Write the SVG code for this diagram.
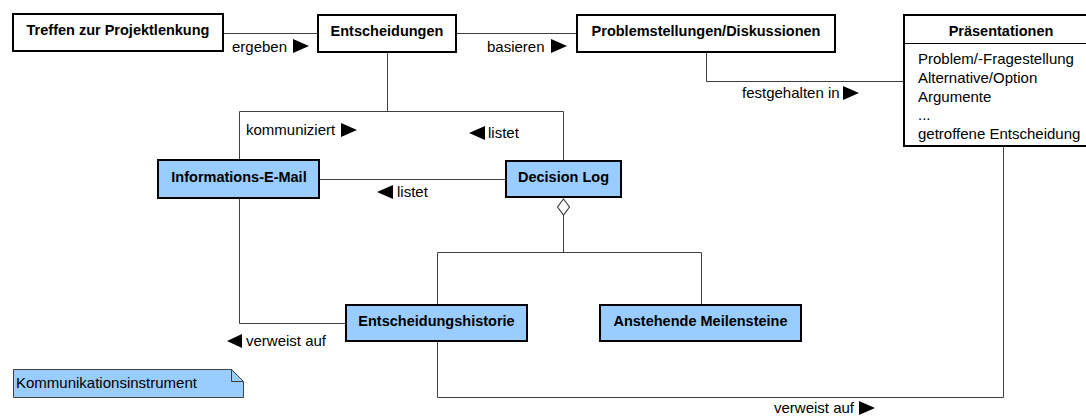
<svg xmlns="http://www.w3.org/2000/svg" width="1086" height="417" viewBox="0 0 1086 417">
<style>
.box{fill:#ffffff;stroke:#000;stroke-width:2}
.blue{fill:#99ccff;stroke:#000;stroke-width:2}
.title{font-family:"Liberation Sans",Arial,sans-serif;font-weight:bold;font-size:14.5px;fill:#000;text-anchor:middle}
.lbl{font-family:"Liberation Sans",Arial,sans-serif;font-size:15px;fill:#000}
.con{fill:none;stroke:#404040;stroke-width:1}
.tri{fill:#000}
</style>
<rect x="0" y="0" width="1086" height="417" fill="#ffffff"/>
<g id="connectors">
<polyline class="con" points="224,33.5 318,33.5"/>
<polyline class="con" points="457,33.5 577,33.5"/>
<polyline class="con" points="706.5,53 706.5,81.5 904,81.5"/>
<polyline class="con" points="387.5,53 387.5,111.5"/>
<polyline class="con" points="239.5,160 239.5,111.5 563.5,111.5 563.5,161"/>
<polyline class="con" points="320,179.5 506,179.5"/>
<polygon points="563.5,199 569.5,207 563.5,215 557.5,207" fill="#ffffff" stroke="#404040" stroke-width="1.2"/>
<polyline class="con" points="563.5,215 563.5,252.5"/>
<polyline class="con" points="437.5,305 437.5,252.5 701.5,252.5 701.5,305"/>
<polyline class="con" points="239.5,198 239.5,323.5 346,323.5"/>
<polyline class="con" points="437.5,341 437.5,397.5 1003.5,397.5 1003.5,146"/>
<text class="lbl" x="232" y="52">ergeben</text>
<polygon class="tri" points="293,39 309,46 293,53"/>
<text class="lbl" x="487" y="52">basieren</text>
<polygon class="tri" points="551,39 567,46 551,53"/>
<text class="lbl" x="742" y="98">festgehalten in</text>
<polygon class="tri" points="843,86 859,93 843,100"/>
<text class="lbl" x="246" y="135">kommuniziert</text>
<polygon class="tri" points="341,123 357,130 341,137"/>
<polygon class="tri" points="485,126 469,133 485,140"/>
<text class="lbl" x="488" y="138">listet</text>
<polygon class="tri" points="393,185 377,192 393,199"/>
<text class="lbl" x="397" y="197">listet</text>
<polygon class="tri" points="242,334 227,341 242,348"/>
<text class="lbl" x="246" y="346">verweist auf</text>
<text class="lbl" x="774" y="413">verweist auf</text>
<polygon class="tri" points="859,401 875,408 859,415"/>
</g>
<g id="treffen">
<rect class="box" x="13" y="14" width="210" height="37"/>
<text class="title" x="118" y="35">Treffen zur Projektlenkung</text>
</g>
<g id="entscheidungen">
<rect class="box" x="318" y="15" width="138" height="37"/>
<text class="title" x="387" y="36">Entscheidungen</text>
</g>
<g id="problemstellungen">
<rect class="box" x="577" y="15" width="258" height="37"/>
<text class="title" x="706" y="36">Problemstellungen/Diskussionen</text>
</g>
<g id="praesentationen">
<rect class="box" x="904" y="15" width="194" height="131"/>
<line x1="904" y1="43.5" x2="1098" y2="43.5" stroke="#000" stroke-width="1"/>
<text class="title" x="1001" y="36">Präsentationen</text>
<text class="lbl" x="918" y="64">Problem/-Fragestellung</text>
<text class="lbl" x="918" y="83">Alternative/Option</text>
<text class="lbl" x="918" y="102">Argumente</text>
<text class="lbl" x="918" y="120">...</text>
<text class="lbl" x="918" y="139">getroffene Entscheidung</text>
</g>
<g id="informations-email">
<rect class="blue" x="158" y="160" width="161" height="38"/>
<text class="title" x="239" y="182">Informations-E-Mail</text>
</g>
<g id="decision-log">
<rect class="blue" x="506" y="161" width="115" height="36"/>
<text class="title" x="563.5" y="182">Decision Log</text>
</g>
<g id="entscheidungshistorie">
<rect class="blue" x="346" y="305" width="181" height="36"/>
<text class="title" x="436.5" y="326">Entscheidungshistorie</text>
</g>
<g id="anstehende-meilensteine">
<rect class="blue" x="600" y="305" width="201" height="36"/>
<text class="title" x="700.5" y="326">Anstehende Meilensteine</text>
</g>
<g id="note">
<polygon points="13.5,369.5 231.5,369.5 243.5,381.5 243.5,397.5 13.5,397.5" fill="#99ccff" stroke="#404040" stroke-width="1"/>
<polyline points="231.5,369.5 231.5,381.5 243.5,381.5" fill="none" stroke="#404040" stroke-width="1"/>
<text class="lbl" x="16" y="388">Kommunikationsinstrument</text>
</g>
</svg>
